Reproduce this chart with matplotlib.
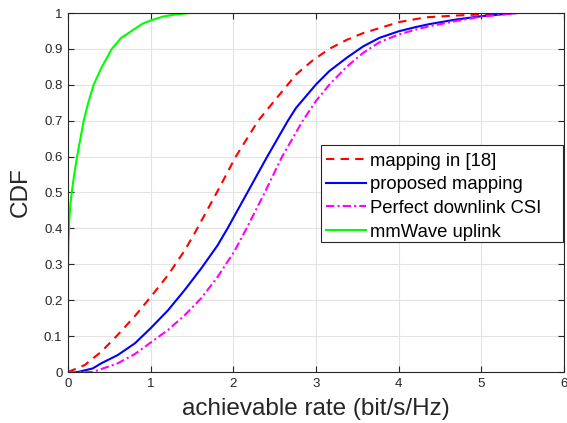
import matplotlib
matplotlib.use("Agg")
import matplotlib.pyplot as plt
from matplotlib.patches import Rectangle

plt.rcParams['font.family'] = ['Liberation Sans', 'DejaVu Sans']

# mapping in [18]
x_ref = [0, 0.2, 0.4, 0.6, 0.81, 1.0, 1.21, 1.41, 1.55, 1.80, 2.03, 2.30, 2.56, 2.76,
         2.96, 3.16, 3.37, 3.57, 3.77, 4.01, 4.33, 4.7, 5.0, 5.45]
y_ref = [0, 0.019, 0.056, 0.103, 0.156, 0.209, 0.27, 0.338, 0.394, 0.5, 0.6, 0.7, 0.773, 0.829,
         0.868, 0.9, 0.925, 0.944, 0.958, 0.975, 0.988, 0.993, 0.996, 1.0]

# proposed mapping
x_prop = [0, 0.12, 0.30, 0.40, 0.60, 0.81, 1.0, 1.21, 1.41, 1.61, 1.81, 1.93, 2.17, 2.41,
          2.66, 2.76, 3.0, 3.16, 3.37, 3.57, 3.77, 4.0, 4.21, 4.37, 4.7, 5.0, 5.42]
y_prop = [0, 0.0, 0.01, 0.024, 0.047, 0.08, 0.122, 0.172, 0.228, 0.288, 0.353, 0.4, 0.5, 0.6,
          0.7, 0.736, 0.801, 0.838, 0.875, 0.907, 0.931, 0.949, 0.961, 0.969, 0.982, 0.991, 1.0]

# Perfect downlink CSI
x_perf = [0, 0.3, 0.6, 0.81, 1.0, 1.21, 1.41, 1.61, 1.81, 2.01, 2.16, 2.38, 2.59, 2.84,
          3.0, 3.16, 3.37, 3.57, 3.77, 4.0, 4.21, 4.37, 4.7, 5.0, 5.45]
y_perf = [0, 0.0, 0.024, 0.05, 0.082, 0.117, 0.158, 0.205, 0.265, 0.335, 0.4, 0.5, 0.6, 0.7,
          0.755, 0.80, 0.85, 0.889, 0.919, 0.94, 0.954, 0.963, 0.978, 0.99, 1.0]

# mmWave uplink
x_mm = [0, 0, 0.005, 0.015, 0.03, 0.045, 0.075, 0.11, 0.15, 0.19, 0.245, 0.31, 0.41,
        0.53, 0.64, 0.77, 0.9, 1.01, 1.15, 1.27, 1.47]
y_mm = [0, 0.3, 0.36, 0.42, 0.47, 0.5, 0.55, 0.6, 0.65, 0.7, 0.75, 0.8, 0.85,
        0.9, 0.93, 0.95, 0.97, 0.98, 0.99, 0.995, 1.0]

labels = ['mapping in [18]', 'proposed mapping', 'Perfect downlink CSI', 'mmWave uplink']
xticks = [0, 1, 2, 3, 4, 5, 6]
yticks = [0, 0.1, 0.2, 0.3, 0.4, 0.5, 0.6, 0.7, 0.8, 0.9, 1.0]
yticklabels = ['0', '0.1', '0.2', '0.3', '0.4', '0.5', '0.6', '0.7', '0.8', '0.9', '1']

W, H = 567, 423
L, R, T, B = 68, 564, 13, 372
fig = plt.figure(figsize=(W/100, H/100), dpi=100)
ax = fig.add_axes([L/W, 1-B/H, (R-L)/W, (B-T)/H])

ax.plot(x_ref, y_ref, color='#ff0000', lw=1.5, ls=(0, (4, 3)), label=labels[0])
ax.plot(x_prop, y_prop, color='#0000ff', lw=1.5, ls='-', label=labels[1])
ax.plot(x_perf, y_perf, color='#ff00ff', lw=1.5, ls=(0, (4, 1.5, 1, 1.5)), label=labels[2])
ax.plot(x_mm, y_mm, color='#00ff00', lw=1.5, ls='-', label=labels[3])

ax.set_xlim(0, 6)
ax.set_ylim(0, 1)
ax.set_xticks(xticks)
ax.set_xticklabels([str(t) for t in xticks])
ax.set_yticks(yticks)
ax.set_yticklabels(yticklabels)
ax.tick_params(direction='in', length=4, width=0.8, top=True, right=True,
               labelsize=9.5, colors='#262626', pad=4)
ax.grid(True, color='#e3e3e3', lw=0.8)
ax.set_axisbelow(True)
for s in ax.spines.values():
    s.set_color('#262626')
    s.set_linewidth(0.8)

ax.set_xlabel('achievable rate (bit/s/Hz)', fontsize=17.5, color='#262626', labelpad=6)
ax.set_ylabel('CDF', fontsize=17.5, color='#262626', labelpad=9)

# legend frame (MATLAB-style box)
def axc(px, py):
    return (px - L) / (R - L), (B - py) / (B - T)

x0, y0 = axc(321, 242)
x1, y1 = axc(563, 145)
ax.add_patch(Rectangle((x0, y0), x1 - x0, y1 - y0, transform=ax.transAxes,
                       facecolor='white', edgecolor='#262626', lw=0.8, zorder=4))

ax_x, ax_y = axc(321.5, 148)
leg = ax.legend(loc='upper left', bbox_to_anchor=(ax_x, ax_y),
                fontsize=13.3, frameon=False, handlelength=2.15, handletextpad=0.2,
                borderpad=0.25, labelspacing=0.36, borderaxespad=0)
leg.set_zorder(5)

fig.savefig('out.png', dpi=100)
